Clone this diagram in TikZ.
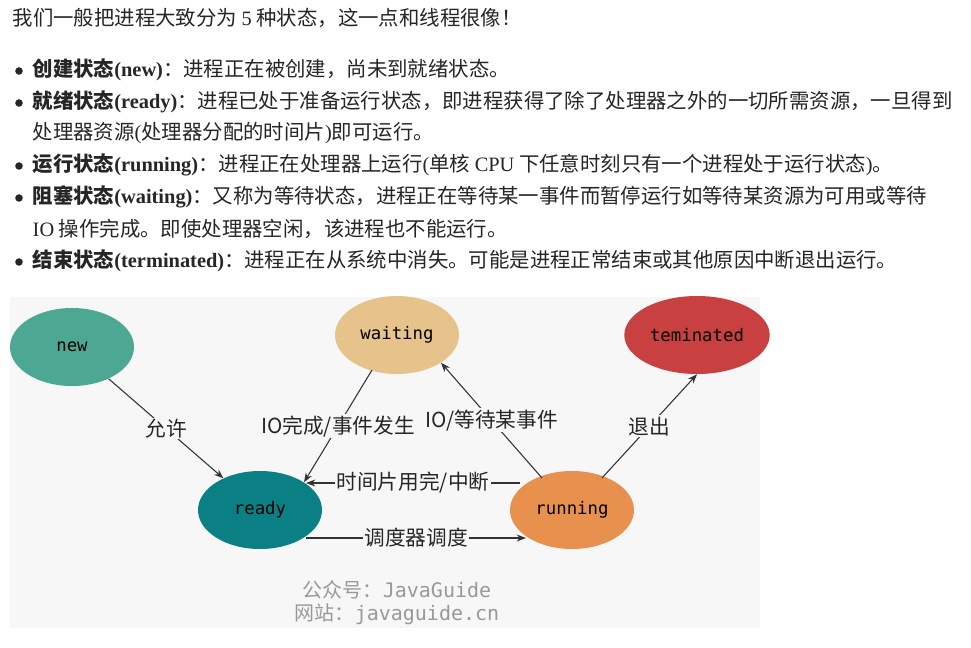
\documentclass[tikz,border=0pt]{standalone}
\usepackage{fontspec}
\setmainfont{Liberation Serif}
\newfontfamily\cjk{Noto Sans CJK SC}
\newfontfamily\monof{DejaVu Sans Mono}
\usetikzlibrary{arrows.meta,shapes.geometric}
\newcommand{\hd}[2]{{\bfseries\cjk #1\rmfamily\bfseries (#2)}}
\begin{document}
\begin{tikzpicture}[x=0.75pt,y=-0.75pt,
  st/.style={ellipse,minimum width=124*0.75pt,minimum height=78*0.75pt,font=\monof\fontsize{13}{13}\selectfont},
  ar/.style={draw=black!80,line width=0.8pt,-{Stealth[length=7pt]}},
  lb/.style={fill=black!3,inner sep=1pt,font=\cjk\fontsize{15.5}{16}\selectfont,text=black!85},
  tx/.style={anchor=west,font=\cjk\fontsize{15.3}{16}\selectfont,text=black!85},
  bl/.style={circle,fill=black!85,inner sep=2pt}]
\useasboundingbox (0,0) rectangle (971,647);
\fill[white] (0,0) rectangle (971,647);
\node[tx] (t0) at (8,18) {我们一般把进程大致分为 {\rmfamily 5} 种状态，这一点和线程很像！};
\node[bl] (b1) at (19,71) {};
\node[tx] (t1) at (28,70) {\hd{创建状态}{new}：进程正在被创建，尚未到就绪状态。};
\node[bl] (b2) at (19,103) {};
\node[tx] (t2) at (28,102) {\hd{就绪状态}{ready}：进程已处于准备运行状态，即进程获得了除了处理器之外的一切所需资源，一旦得到};
\node[tx] (t2b) at (28,133) {处理器资源{\rmfamily (}处理器分配的时间片{\rmfamily )}即可运行。};
\node[bl] (b3) at (19,166) {};
\node[tx] (t3) at (28,165) {\hd{运行状态}{running}：进程正在处理器上运行{\rmfamily (}单核 {\rmfamily CPU} 下任意时刻只有一个进程处于运行状态{\rmfamily )}。};
\node[bl] (b4) at (19,198) {};
\node[tx] (t4) at (28,197) {\hd{阻塞状态}{waiting}：又称为等待状态，进程正在等待某一事件而暂停运行如等待某资源为可用或等待};
\node[tx] (t4b) at (28,229) {{\rmfamily IO} 操作完成。即使处理器空闲，该进程也不能运行。};
\node[bl] (b5) at (19,262) {};
\node[tx] (t5) at (28,261) {\hd{结束状态}{terminated}：进程正在从系统中消失。可能是进程正常结束或其他原因中断退出运行。};
\fill[black!3] (10,297) rectangle (760,628);
\node[st,fill={rgb,255:red,77;green,168;blue,147}] (new) at (72,347) {new};
\node[st,fill={rgb,255:red,230;green,195;blue,138}] (waiting) at (397,335) {waiting};
\node[st,fill={rgb,255:red,201;green,64;blue,64}] (term) at (697,335) {teminated};
\node[st,fill={rgb,255:red,10;green,128;blue,133}] (ready) at (260,510) {ready};
\node[st,fill={rgb,255:red,232;green,144;blue,78}] (run) at (572,510) {running};
\draw[ar] (new) -- node[lb]{允许} (ready);
\coordinate (w1) at (372,370);
\draw[ar] (w1) -- node[lb,pos=0.5]{IO完成/事件发生} (ready.north east);
\coordinate (r1) at (542,478);
\draw[ar] (r1) -- node[lb,pos=0.5]{IO/等待某事件} (waiting.south east);
\coordinate (r2) at (602,478);
\draw[ar] (r2) -- node[lb,pos=0.5]{退出} (term.south);
\coordinate (ra) at (520,483); \coordinate (rb) at (306,483);
\draw[ar] (ra) -- node[lb]{时间片用完/中断} (rb);
\coordinate (rc) at (306,538); \coordinate (rd) at (526,538);
\draw[ar] (rc) -- node[lb]{调度器调度} (rd);
\node[font=\cjk\fontsize{15}{15}\selectfont,text=black!40] (wm1) at (397,590) {公众号：{\monof JavaGuide}};
\node[font=\cjk\fontsize{15}{15}\selectfont,text=black!40] (wm2) at (397,614) {网站：{\monof javaguide.cn}};
\end{tikzpicture}
\end{document}
